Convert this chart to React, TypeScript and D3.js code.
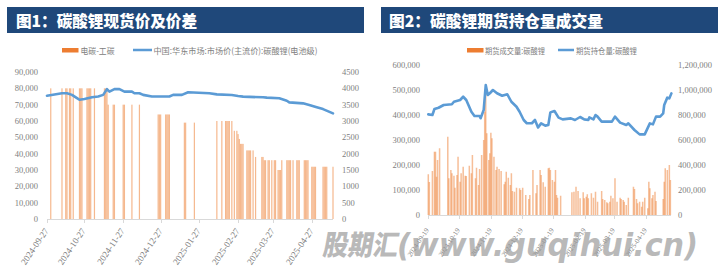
import React from "react";
import * as d3 from "d3";

const parse = d3.timeParse("%Y-%m-%d");

// ---------- Chart 1: spot price & spread ----------
const title1 = "图1：碳酸锂现货价及价差";
const legend1Bar = "电碳-工碳";
const legend1Line = "中国:华东市场:市场价(主流价):碳酸锂(电池级)";

const spotDates = [
  "2024-09-27", "2024-10-09", "2024-10-13", "2024-10-17", "2024-10-21", "2024-10-23", "2024-10-27",
  "2024-11-02", "2024-11-07", "2024-11-11", "2024-11-14", "2024-11-16", "2024-11-20", "2024-11-24",
  "2024-11-28", "2024-12-04", "2024-12-06", "2024-12-10", "2024-12-13", "2024-12-20", "2025-01-03",
  "2025-01-06", "2025-01-13", "2025-01-18", "2025-02-04", "2025-02-10", "2025-02-22", "2025-02-27",
  "2025-03-03", "2025-03-19", "2025-03-22", "2025-04-01", "2025-04-07", "2025-04-09", "2025-04-20",
  "2025-04-25", "2025-05-01", "2025-05-06", "2025-05-14",
];
const spotPrice = [
  75500, 77000, 77000, 76000, 74000, 73000, 73500,
  74500, 75000, 76000, 79500, 78000, 79500, 79500,
  78000, 78000, 77000, 77000, 76000, 75000, 75000,
  76000, 76000, 77600, 77000, 76300, 75900, 75300,
  74900, 74500, 74300, 73900, 72400, 71400, 70800,
  69800, 68400, 67300, 64700,
];

const spreadDates = [
  "2024-09-30", "2024-10-09", "2024-10-12", "2024-10-13", "2024-10-15", "2024-10-16", "2024-10-18",
  "2024-10-23", "2024-10-24", "2024-10-25", "2024-10-29", "2024-10-30", "2024-10-31", "2024-11-01",
  "2024-11-04", "2024-11-12", "2024-11-13", "2024-11-14", "2024-11-15", "2024-11-19", "2024-11-20",
  "2024-11-27", "2024-11-28", "2024-12-04", "2024-12-10", "2024-12-25", "2024-12-26", "2024-12-27",
  "2024-12-31", "2025-01-01", "2025-01-02", "2025-01-03", "2025-01-15", "2025-01-16", "2025-01-23",
  "2025-02-10", "2025-02-14", "2025-02-17", "2025-02-18", "2025-02-19", "2025-02-20", "2025-02-22",
  "2025-02-24", "2025-02-26", "2025-02-27", "2025-02-28", "2025-03-01", "2025-03-02", "2025-03-03",
  "2025-03-06", "2025-03-07", "2025-03-08", "2025-03-09", "2025-03-11", "2025-03-13", "2025-03-18",
  "2025-03-19", "2025-03-20", "2025-03-21", "2025-03-23", "2025-03-24", "2025-03-26", "2025-03-28",
  "2025-03-29", "2025-03-31", "2025-04-01", "2025-04-02", "2025-04-03", "2025-04-07", "2025-04-08",
  "2025-04-09", "2025-04-10", "2025-04-12", "2025-04-15", "2025-04-16", "2025-04-17", "2025-04-21",
  "2025-04-22", "2025-04-23", "2025-04-24", "2025-04-27", "2025-04-28", "2025-04-29", "2025-04-30",
  "2025-05-06", "2025-05-07", "2025-05-08", "2025-05-09", "2025-05-14",
];
const spreadValues = [
  4000, 4000, 4000, 4000, 4000, 4000, 4000,
  4000, 4000, 4000, 4000, 4000, 4000, 4000,
  4000, 4000, 4000, 4000, 3500, 3500, 3500,
  3500, 3500, 3500, 3500, 3200, 3200, 3200,
  3200, 3200, 3200, 3200, 2950, 2950, 2950,
  3000, 3000, 3000, 3000, 3000, 3000, 3000,
  2700, 2700, 2600, 2450, 2300, 2300, 2300,
  2100, 2100, 2100, 2100, 2100, 1900, 1900,
  1900, 1800, 1800, 1800, 1800, 1800, 1800,
  1800, 1500, 1500, 1500, 1800, 1800, 1800,
  1800, 1800, 1800, 1800, 1800, 1800, 1800,
  1800, 1800, 1800, 1600, 1600, 1600, 1600,
  1600, 1600, 1600, 1600, 1600,
];

const xTicks1 = ["2024-09-27", "2024-10-27", "2024-11-27", "2024-12-27", "2025-01-27", "2025-02-27", "2025-03-27", "2025-04-27"];
const leftTicks1 = [0, 10000, 20000, 30000, 40000, 50000, 60000, 70000, 80000, 90000];
const rightTicks1 = [0, 500, 1000, 1500, 2000, 2500, 3000, 3500, 4000, 4500];
const xDomain1 = ["2024-09-27", "2025-05-14"];

// ---------- Chart 2: futures OI & volume ----------
const title2 = "图2：碳酸锂期货持仓量成交量";
const legend2Bar = "期货成交量:碳酸锂";
const legend2Line = "期货持仓量:碳酸锂";

const oiDates = [
  "2024-09-19", "2024-09-23", "2024-09-25", "2024-09-29", "2024-10-04", "2024-10-12", "2024-10-14",
  "2024-10-20", "2024-10-23", "2024-10-26", "2024-10-31", "2024-11-03", "2024-11-08", "2024-11-09",
  "2024-11-12", "2024-11-14", "2024-11-16", "2024-11-18", "2024-11-21", "2024-11-25", "2024-11-30",
  "2024-12-05", "2024-12-09", "2024-12-14", "2024-12-17", "2024-12-21", "2024-12-24", "2024-12-29",
  "2025-01-01", "2025-01-04", "2025-01-07", "2025-01-11", "2025-01-14", "2025-01-16", "2025-01-20",
  "2025-01-24", "2025-01-28", "2025-02-05", "2025-02-09", "2025-02-14", "2025-02-18", "2025-02-22",
  "2025-02-23", "2025-02-27", "2025-03-01", "2025-03-03", "2025-03-07", "2025-03-17", "2025-03-20",
  "2025-03-25", "2025-03-31", "2025-04-02", "2025-04-08", "2025-04-13", "2025-04-18", "2025-04-23",
  "2025-04-26", "2025-04-29", "2025-05-03", "2025-05-06", "2025-05-07", "2025-05-10", "2025-05-12",
  "2025-05-14",
];
const oiValues = [
  805000, 800000, 848000, 858000, 880000, 886000, 906000,
  920000, 946000, 920000, 826000, 792000, 792000, 774000,
  840000, 1040000, 960000, 974000, 1000000, 974000, 954000,
  966000, 906000, 866000, 826000, 760000, 734000, 734000,
  760000, 700000, 733000, 715000, 720000, 821000, 832000,
  779000, 765000, 773000, 760000, 784000, 765000, 760000,
  781000, 765000, 800000, 787000, 747000, 747000, 787000,
  739000, 720000, 733000, 680000, 645000, 645000, 733000,
  725000, 787000, 787000, 813000, 880000, 939000, 933000,
  973000,
];

const volDates = [
  "2024-09-19", "2024-09-20", "2024-09-23", "2024-09-25", "2024-09-26", "2024-09-27", "2024-09-28",
  "2024-09-30", "2024-10-08", "2024-10-09", "2024-10-11", "2024-10-12", "2024-10-14", "2024-10-15",
  "2024-10-17", "2024-10-18", "2024-10-20", "2024-10-21", "2024-10-23", "2024-10-25", "2024-10-26",
  "2024-10-29", "2024-10-31", "2024-11-01", "2024-11-04", "2024-11-05", "2024-11-07", "2024-11-08",
  "2024-11-10", "2024-11-12", "2024-11-13", "2024-11-14", "2024-11-15", "2024-11-17", "2024-11-18",
  "2024-11-19", "2024-11-20", "2024-11-22", "2024-11-24", "2024-11-25", "2024-11-27", "2024-11-29",
  "2024-12-02", "2024-12-03", "2024-12-04", "2024-12-06", "2024-12-08", "2024-12-09", "2024-12-10",
  "2024-12-12", "2024-12-14", "2024-12-17", "2024-12-18", "2024-12-20", "2024-12-23", "2024-12-26",
  "2024-12-27", "2024-12-30", "2025-01-02", "2025-01-03", "2025-01-06", "2025-01-07", "2025-01-09",
  "2025-01-11", "2025-01-14", "2025-01-15", "2025-01-16", "2025-01-18", "2025-01-20", "2025-01-21",
  "2025-01-22", "2025-01-23", "2025-01-26", "2025-02-06", "2025-02-08", "2025-02-10", "2025-02-12",
  "2025-02-14", "2025-02-17", "2025-02-18", "2025-02-20", "2025-02-21", "2025-02-22", "2025-02-25",
  "2025-02-27", "2025-03-01", "2025-03-03", "2025-03-07", "2025-03-08", "2025-03-10", "2025-03-12",
  "2025-03-13", "2025-03-15", "2025-03-16", "2025-03-18", "2025-03-20", "2025-03-22", "2025-03-25",
  "2025-03-26", "2025-03-28", "2025-03-29", "2025-03-31", "2025-04-02", "2025-04-07", "2025-04-08",
  "2025-04-10", "2025-04-11", "2025-04-13", "2025-04-15", "2025-04-16", "2025-04-18", "2025-04-21",
  "2025-04-22", "2025-04-23", "2025-04-25", "2025-04-26", "2025-04-28", "2025-04-29", "2025-05-06",
  "2025-05-07", "2025-05-08", "2025-05-10", "2025-05-12", "2025-05-13",
];
const volValues = [
  163000, 132000, 176000, 253000, 253000, 153000, 220000,
  267000, 313000, 147000, 180000, 167000, 157000, 109000,
  160000, 233000, 133000, 167000, 193000, 157000, 156000,
  197000, 167000, 240000, 147000, 189000, 120000, 184000,
  240000, 300000, 413000, 523000, 327000, 220000, 247000,
  329000, 307000, 233000, 180000, 193000, 184000, 176000,
  123000, 133000, 173000, 149000, 120000, 167000, 96000,
  93000, 109000, 107000, 100000, 109000, 80000, 64000,
  80000, 180000, 87000, 120000, 180000, 160000, 131000,
  113000, 187000, 189000, 180000, 140000, 133000, 180000,
  80000, 69000, 77000, 91000, 93000, 113000, 96000,
  67000, 91000, 67000, 73000, 83000, 67000, 87000,
  69000, 93000, 53000, 96000, 64000, 60000, 51000,
  47000, 53000, 77000, 67000, 147000, 53000, 69000,
  64000, 60000, 53000, 40000, 69000, 113000, 104000,
  64000, 47000, 53000, 33000, 53000, 69000, 27000,
  133000, 107000, 67000, 80000, 93000, 56000, 64000,
  133000, 187000, 180000, 200000, 140000,
];

const xTicks2 = ["2024-09-19", "2024-10-19", "2024-11-19", "2024-12-19", "2025-01-19", "2025-02-19", "2025-03-19", "2025-04-19"];
const leftTicks2 = [0, 100000, 200000, 300000, 400000, 500000, 600000];
const rightTicks2 = [0, 200000, 400000, 600000, 800000, 1000000, 1200000];
const xDomain2 = ["2024-09-19", "2025-05-14"];

const watermarkCn = "股期汇";
const watermarkEn = "(www.guqihui.cn)";

// ---------- styles ----------
const ORANGE = "#ED7D31";
const BLUE = "#5B9BD5";
const NAVY = "#1F487A";
const AXIS = "#D9D9D9";
const LABEL = "#808080";
const NUMFONT = "'Liberation Serif', 'Times New Roman', serif";
const CJK = "'Noto Sans CJK SC', sans-serif";

const fmtComma = d3.format(",");

function Chart1() {
  const x = d3.scaleTime().domain(xDomain1.map((d) => parse(d)!)).range([47, 333]);
  const yL = d3.scaleLinear().domain([0, 90000]).range([219, 72]);
  const yR = d3.scaleLinear().domain([0, 4500]).range([219, 72]);
  const line = d3
    .line<number>()
    .x((_, i) => x(parse(spotDates[i])!))
    .y((d) => yL(d));
  const bw = 1.2;
  return (
    <g>
      <rect x={7} y={7} width={357} height={26} fill={NAVY} />
      <text x={16} y={26.5} fill="#fff" fontFamily={CJK} fontWeight={900} fontSize={16} textLength={181} lengthAdjust="spacingAndGlyphs">
        {title1}
      </text>
      {/* legend */}
      <rect x={62} y={48} width={16.5} height={4.5} fill={ORANGE} />
      <text x={80.5} y={50.3} dominantBaseline="central" fill={LABEL} fontFamily={CJK} fontSize={8.5} textLength={34} lengthAdjust="spacingAndGlyphs">
        {legend1Bar}
      </text>
      <line x1={133} x2={152} y1={50} y2={50} stroke={BLUE} strokeWidth={2.5} />
      <text x={153.5} y={50.3} dominantBaseline="central" fill={LABEL} fontFamily={CJK} fontSize={8.5} textLength={164} lengthAdjust="spacingAndGlyphs">
        {legend1Line}
      </text>
      {/* bars */}
      <g fill={ORANGE} fillOpacity={0.55}>
        {spreadValues.map((v, i) => {
          const cx = x(parse(spreadDates[i])!);
          return <rect key={i} x={cx - bw / 2} y={yR(v)} width={bw} height={yR(0) - yR(v)} />;
        })}
      </g>
      {/* axis */}
      <line x1={47} x2={333} y1={219.5} y2={219.5} stroke={AXIS} strokeWidth={1} />
      {xTicks1.map((t) => {
        const tx = Math.round(x(parse(t)!)) + 0.5;
        return (
          <g key={t}>
            <line x1={tx} x2={tx} y1={219.5} y2={223} stroke={AXIS} />
            <text
              transform={`translate(${tx - 1},${229}) rotate(-56)`}
              textAnchor="end"
              dominantBaseline="central"
              fill={LABEL}
              fontFamily={NUMFONT}
              fontSize={9}
            >
              {t}
            </text>
          </g>
        );
      })}
      {leftTicks1.map((t) => (
        <text key={"l" + t} x={38} y={yL(t)} textAnchor="end" dominantBaseline="central" fill={LABEL} fontFamily={NUMFONT} fontSize={8.5}>
          {fmtComma(t)}
        </text>
      ))}
      {rightTicks1.map((t) => (
        <text key={"r" + t} x={342} y={yR(t)} textAnchor="start" dominantBaseline="central" fill={LABEL} fontFamily={NUMFONT} fontSize={8.5}>
          {String(t)}
        </text>
      ))}
      <path d={line(spotPrice) || ""} fill="none" stroke={BLUE} strokeWidth={2.6} strokeLinejoin="round" strokeLinecap="round" />
    </g>
  );
}

function Chart2() {
  const x = d3.scaleTime().domain(xDomain2.map((d) => parse(d)!)).range([428.3, 671.4]);
  const yL = d3.scaleLinear().domain([0, 600000]).range([215, 65]);
  const yR = d3.scaleLinear().domain([0, 1200000]).range([215, 65]);
  const line = d3
    .line<number>()
    .x((_, i) => x(parse(oiDates[i])!))
    .y((d) => yR(d));
  const bw = 1.5;
  return (
    <g>
      <rect x={381} y={7} width={337} height={26} fill={NAVY} />
      <text x={389} y={26.5} fill="#fff" fontFamily={CJK} fontWeight={900} fontSize={16} textLength={214} lengthAdjust="spacingAndGlyphs">
        {title2}
      </text>
      <rect x={467} y={48} width={16.5} height={4.5} fill={ORANGE} />
      <text x={485} y={50.3} dominantBaseline="central" fill={LABEL} fontFamily={CJK} fontSize={8.5} textLength={60} lengthAdjust="spacingAndGlyphs">
        {legend2Bar}
      </text>
      <line x1={558} x2={574} y1={50} y2={50} stroke={BLUE} strokeWidth={2.5} />
      <text x={576} y={50.3} dominantBaseline="central" fill={LABEL} fontFamily={CJK} fontSize={8.5} textLength={61} lengthAdjust="spacingAndGlyphs">
        {legend2Line}
      </text>
      <g fill={ORANGE} fillOpacity={0.5}>
        {volValues.map((v, i) => {
          const cx = x(parse(volDates[i])!);
          return <rect key={i} x={cx - bw / 2} y={yL(v)} width={bw} height={yL(0) - yL(v)} />;
        })}
      </g>
      <line x1={428} x2={671} y1={215.5} y2={215.5} stroke={AXIS} strokeWidth={1} />
      {xTicks2.map((t) => {
        const tx = Math.round(x(parse(t)!)) + 0.5;
        return (
          <g key={t}>
            <line x1={tx} x2={tx} y1={215.5} y2={219} stroke={AXIS} />
            <text
              transform={`translate(${tx - 1},${229}) rotate(-56)`}
              textAnchor="end"
              dominantBaseline="central"
              fill={LABEL}
              fontFamily={NUMFONT}
              fontSize={7}
            >
              {t}
            </text>
          </g>
        );
      })}
      {leftTicks2.map((t) => (
        <text key={"l" + t} x={420} y={yL(t)} textAnchor="end" dominantBaseline="central" fill={LABEL} fontFamily={NUMFONT} fontSize={8.5}>
          {fmtComma(t)}
        </text>
      ))}
      {rightTicks2.map((t) => (
        <text key={"r" + t} x={678} y={yR(t)} textAnchor="start" dominantBaseline="central" fill={LABEL} fontFamily={NUMFONT} fontSize={8.5}>
          {fmtComma(t)}
        </text>
      ))}
      <path d={line(oiValues) || ""} fill="none" stroke={BLUE} strokeWidth={2.6} strokeLinejoin="round" strokeLinecap="round" />
    </g>
  );
}

export default function App() {
  return (
    <svg
      width={718}
      height={274}
      viewBox="0 0 718 274"
      style={{ position: "fixed", left: 0, top: 0, background: "#fff" }}
    >
      <rect x={0} y={0} width={718} height={274} fill="#fff" />
      <Chart1 />
      <Chart2 />
      <g fill="#9a9a9a" fillOpacity={0.7} fontWeight={900}>
        <text x={322} y={255} fontFamily={CJK} fontSize={28} textLength={75} lengthAdjust="spacingAndGlyphs" transform="skewX(-10) translate(45,0)">
          {watermarkCn}
        </text>
        <text x={397} y={256} fontFamily="'DejaVu Sans', sans-serif" fontStyle="italic" fontWeight="bold" fontSize={32} textLength={301} lengthAdjust="spacingAndGlyphs">
          {watermarkEn}
        </text>
      </g>
    </svg>
  );
}
